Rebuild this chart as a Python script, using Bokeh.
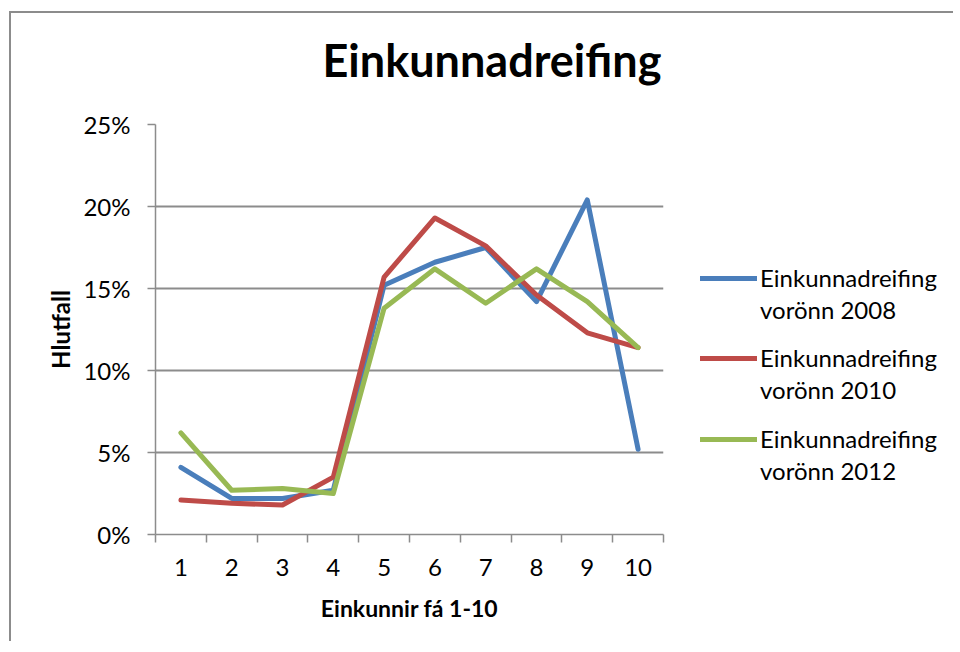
from bokeh.plotting import figure
from bokeh.layouts import row
from bokeh.models import (Range1d, FixedTicker, PrintfTickFormatter, Legend, LegendItem, Title)
from bokeh.embed import file_html
from bokeh.resources import INLINE

categories = [1, 2, 3, 4, 5, 6, 7, 8, 9, 10]
tick_labels = ["1", "2", "3", "4", "5", "6", "7", "8", "9", "10"]
y_ticks = [0, 5, 10, 15, 20, 25]

series_2008 = [4.1, 2.2, 2.2, 2.7, 15.2, 16.6, 17.5, 14.2, 20.4, 5.2]
series_2010 = [2.1, 1.9, 1.8, 3.5, 15.7, 19.3, 17.6, 14.6, 12.3, 11.4]
series_2012 = [6.2, 2.7, 2.8, 2.5, 13.8, 16.2, 14.1, 16.2, 14.2, 11.4]

label_line1 = ["Einkunnadreifing", "Einkunnadreifing", "Einkunnadreifing"]
label_line2 = ["vorönn 2008", "vorönn 2010", "vorönn 2012"]
colors = ["#4A7EBB", "#BE4B48", "#98B954"]

FONT = "Lato"
GRAY = "#8C8C8C"
H = 630
W_MAIN = 660
W_LEG = 284

p = figure(width=W_MAIN, height=H, output_backend="svg", toolbar_location=None, title=None,
           x_range=Range1d(0.5, 10.5), y_range=Range1d(0, 25),
           min_border_left=144, min_border_right=8, min_border_top=111, min_border_bottom=109)
p.outline_line_color = None
p.background_fill_color = "white"
p.border_fill_color = "white"

# spacer between title and plot area, then the title itself
p.add_layout(Title(text=" ", text_font_size="1px", standoff=35), "above")
p.add_layout(Title(text="Einkunnadreifing", align="left", offset=167, standoff=0,
                   text_font=FONT, text_font_size="45px", text_font_style="bold", text_color="black"),
             "above")

# x axis
xa = p.xaxis[0]
xa.ticker = FixedTicker(ticks=categories, minor_ticks=[c - 0.5 for c in categories] + [10.5])
xa.major_label_overrides = {c: t for c, t in zip(categories, tick_labels)}
xa.major_tick_out = 0
xa.major_tick_in = 0
xa.minor_tick_out = 8
xa.minor_tick_in = 0
xa.minor_tick_line_color = GRAY
xa.minor_tick_line_width = 1.5
xa.axis_line_color = GRAY
xa.axis_line_width = 1.5
xa.major_label_text_font = FONT
xa.major_label_text_font_size = "24px"
xa.major_label_text_color = "black"
xa.major_label_standoff = 16
xa.axis_label = "Einkunnir fá 1-10"
xa.axis_label_text_font = FONT
xa.axis_label_text_font_size = "23px"
xa.axis_label_text_font_style = "bold"
xa.axis_label_text_color = "black"
xa.axis_label_standoff = 15

# y axis
ya = p.yaxis[0]
ya.ticker = FixedTicker(ticks=y_ticks, minor_ticks=[])
ya.formatter = PrintfTickFormatter(format="%d%%")
ya.major_tick_out = 8
ya.major_tick_in = 0
ya.major_tick_line_color = GRAY
ya.major_tick_line_width = 1.5
ya.axis_line_color = GRAY
ya.axis_line_width = 1.5
ya.major_label_text_font = FONT
ya.major_label_text_font_size = "24px"
ya.major_label_text_color = "black"
ya.major_label_standoff = 17
ya.axis_label = "Hlutfall"
ya.axis_label_text_font = FONT
ya.axis_label_text_font_size = "24px"
ya.axis_label_text_font_style = "bold"
ya.axis_label_text_color = "black"
ya.axis_label_standoff = 5

p.xgrid.grid_line_color = None
p.ygrid.ticker = FixedTicker(ticks=y_ticks[1:])
p.ygrid.grid_line_color = GRAY
p.ygrid.grid_line_width = 1.8

for ys, c in zip([series_2008, series_2010, series_2012], colors):
    p.line(categories, ys, line_color=c, line_width=5, line_join="round", line_cap="round")

# legend panel (separate figure on the right; its lines fall outside its ranges)
q = figure(width=W_LEG, height=H, output_backend="svg", toolbar_location=None,
           x_axis_type=None, y_axis_type=None, x_range=Range1d(-2, -1), y_range=Range1d(-2, -1),
           min_border_left=0, min_border_right=0, min_border_top=0, min_border_bottom=0)
q.outline_line_color = None
q.background_fill_color = "white"
q.border_fill_color = "white"
q.grid.visible = False

legend_bottoms = [210, 130, 49]
for ys, c, l1, l2, yb in zip([series_2008, series_2010, series_2012], colors, label_line1, label_line2, legend_bottoms):
    r_color = q.line(categories, ys, line_color=c, line_width=5, line_cap="round")
    r_blank = q.line(categories, ys, line_alpha=0)
    lg = Legend(items=[LegendItem(label=l1, renderers=[r_color]), LegendItem(label=l2, renderers=[r_blank])],
                location=(29, yb), orientation="vertical",
                label_text_font=FONT, label_text_font_size="24px", label_text_color="black",
                glyph_width=57, glyph_height=20, label_standoff=3, spacing=3, label_height=20,
                padding=0, margin=0, border_line_color=None, background_fill_alpha=0)
    q.add_layout(lg, "center")

layout = row(p, q)
layout.margin = (13, 0, 0, 11)
layout.styles = {"box-shadow": "-2px -2px 0px 0px #8C8C8C"}

open("out.html", "w").write(file_html(layout, INLINE))
